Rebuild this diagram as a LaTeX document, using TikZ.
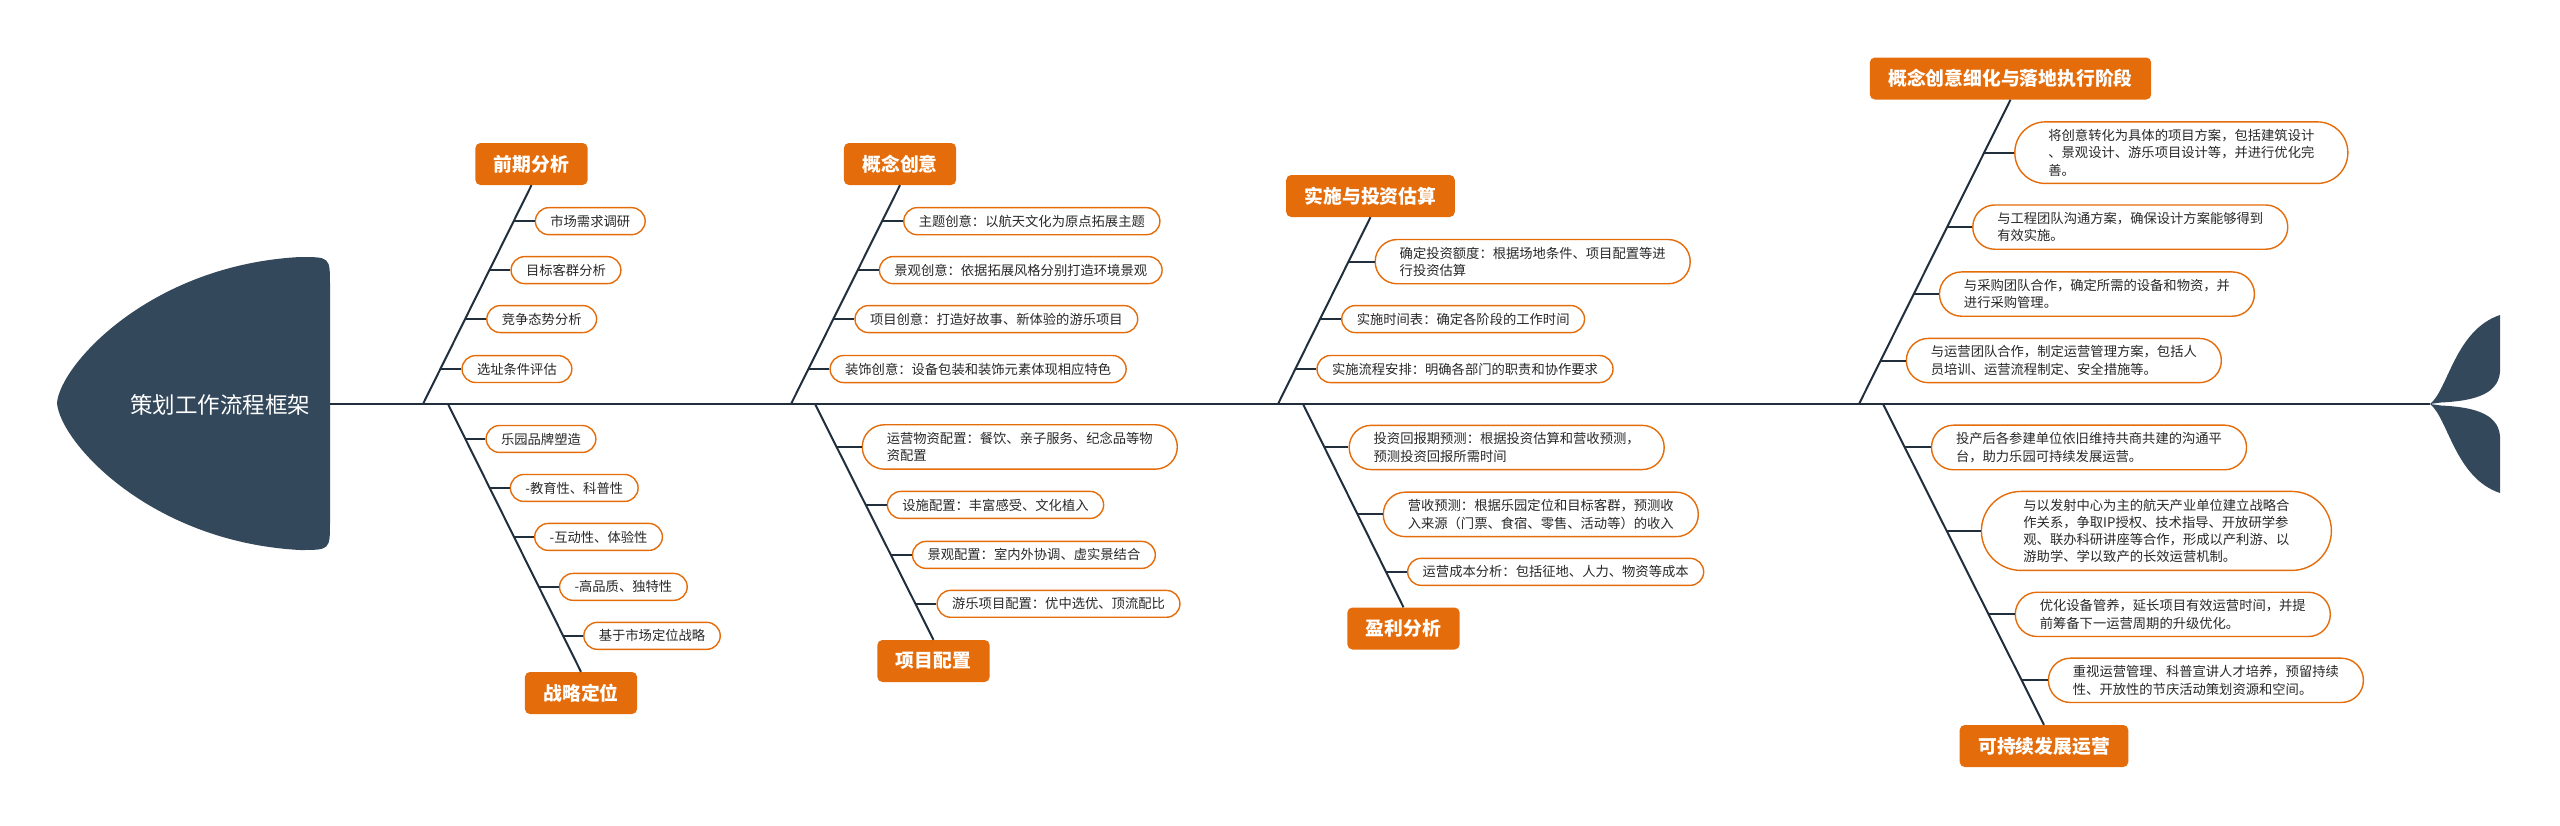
\documentclass[tikz,border=0pt]{standalone}
\usepackage{fontspec}
\newfontfamily\cjk{Noto Sans CJK SC}
\usetikzlibrary{calc}
\definecolor{navy}{RGB}{52,72,92}
\definecolor{linec}{RGB}{33,47,61}
\definecolor{orng}{RGB}{228,108,10}
\definecolor{txt}{RGB}{40,40,40}
\newcommand\fbleaf[8]{% #1 start coord, #2 end anchor, #3 end y, #4 leaf y, #5 gap, #6 name, #7 text, #8 style
  \pgfmathsetmacro\fbfrac{(404-#4)/(404-#3)}%
  \coordinate (#6c) at ($(#1)!\fbfrac!(#2)$);
  \node[leaf,#8] (#6) at ([xshift=#5pt]#6c) {#7};
  \draw[twg] (#6c) -- (#6.west);
}
\begin{document}
\begin{tikzpicture}[x=1pt,y=-1pt,
  ttl/.style={rectangle, rounded corners=5pt, fill=orng, text=white,
    font=\cjk\bfseries\fontsize{18.8}{20}\selectfont, inner xsep=18.5pt, minimum height=42pt},
  leaf/.style={rectangle, draw=orng, line width=1.4pt, fill=white, text=txt,
    font=\cjk\fontsize{13.3}{17.3}\selectfont, align=left, inner ysep=7.3pt, anchor=west},
  one/.style={inner xsep=15pt, rounded corners=13.5pt},
  two/.style={inner xsep=24.5pt, rounded corners=22pt},
  three/.style={inner xsep=33.5pt, rounded corners=30.5pt},
  four/.style={inner xsep=42pt, rounded corners=39.5pt},
  bone/.style={draw=linec, line width=2pt},
  twg/.style={draw=linec, line width=2pt}]
\useasboundingbox (0,0) rectangle (2560,825);

% head
\fill[navy] (57,403) .. controls (60,365) and (150,265) .. (300,257)
  .. controls (330,257) .. (330,285) -- (330,522)
  .. controls (330,550) .. (300,550)
  .. controls (150,542) and (60,442) .. (57,403) -- cycle;
\node[font=\cjk\fontsize{22.5}{24}\selectfont, text=white] (head) at (220,405) {策划工作流程框架};

% tail
\coordinate (headR) at (330,404);
\coordinate (tailN) at (2430,404);
\fill[navy] (2430,404) .. controls (2448,390) and (2455,330) .. (2500,315)
  -- (2500,372) .. controls (2498,396) and (2470,401) .. (2441,402.5) -- cycle;
\fill[navy] (2430,404) .. controls (2448,418) and (2455,478) .. (2500,493)
  -- (2500,436) .. controls (2498,412) and (2470,407) .. (2441,405.5) -- cycle;
\draw[bone, line width=2.5pt] (headR) -- (tailN);

% branch 1 up
\coordinate (s1u) at (423,404);
\node[ttl] (t1u) at (531.5,164) {前期分析};
\draw[bone] (s1u) -- (t1u.south);
\fbleaf{s1u}{t1u.south}{185}{221}{21}{a1}{市场需求调研}{one}
\fbleaf{s1u}{t1u.south}{185}{270}{21}{a2}{目标客群分析}{one}
\fbleaf{s1u}{t1u.south}{185}{319}{21}{a3}{竞争态势分析}{one}
\fbleaf{s1u}{t1u.south}{185}{369}{21}{a4}{选址条件评估}{one}

% branch 1 down
\coordinate (s1d) at (448,404);
\node[ttl] (t1d) at (581,693) {战略定位};
\draw[bone] (s1d) -- (t1d.north);
\fbleaf{s1d}{t1d.north}{672}{439}{20}{b1}{乐园品牌塑造}{one}
\fbleaf{s1d}{t1d.north}{672}{488}{20}{b2}{-教育性、科普性}{one}
\fbleaf{s1d}{t1d.north}{672}{537}{20}{b3}{-互动性、体验性}{one}
\fbleaf{s1d}{t1d.north}{672}{587}{20}{b4}{-高品质、独特性}{one}
\fbleaf{s1d}{t1d.north}{672}{636}{20}{b5}{基于市场定位战略}{one}

% branch 2 up
\coordinate (s2u) at (791,404);
\node[ttl] (t2u) at (900,164) {概念创意};
\draw[bone] (s2u) -- (t2u.south);
\fbleaf{s2u}{t2u.south}{185}{221}{21}{c1}{主题创意：以航天文化为原点拓展主题}{one}
\fbleaf{s2u}{t2u.south}{185}{270}{21}{c2}{景观创意：依据拓展风格分别打造环境景观}{one}
\fbleaf{s2u}{t2u.south}{185}{319}{21}{c3}{项目创意：打造好故事、新体验的游乐项目}{one}
\fbleaf{s2u}{t2u.south}{185}{369}{21}{c4}{装饰创意：设备包装和装饰元素体现相应特色}{one}

% branch 2 down
\coordinate (s2d) at (815,404);
\node[ttl] (t2d) at (933.5,661) {项目配置};
\draw[bone] (s2d) -- (t2d.north);
\fbleaf{s2d}{t2d.north}{640}{447}{25}{d1}{运营物资配置：餐饮、亲子服务、纪念品等物\\资配置}{two}
\fbleaf{s2d}{t2d.north}{640}{505}{21}{d2}{设施配置：丰富感受、文化植入}{one}
\fbleaf{s2d}{t2d.north}{640}{555}{21}{d3}{景观配置：室内外协调、虚实景结合}{one}
\fbleaf{s2d}{t2d.north}{640}{604}{21}{d4}{游乐项目配置：优中选优、顶流配比}{one}

% branch 3 up
\coordinate (s3u) at (1278,404);
\node[ttl] (t3u) at (1370.5,196) {实施与投资估算};
\draw[bone] (s3u) -- (t3u.south);
\fbleaf{s3u}{t3u.south}{217}{261.5}{26}{e1}{确定投资额度：根据场地条件、项目配置等进\\行投资估算}{two}
\fbleaf{s3u}{t3u.south}{217}{319}{21}{e2}{实施时间表：确定各阶段的工作时间}{one}
\fbleaf{s3u}{t3u.south}{217}{369}{21}{e3}{实施流程安排：明确各部门的职责和协作要求}{one}

% branch 3 down
\coordinate (s3d) at (1303,404);
\node[ttl] (t3d) at (1403.5,628.5) {盈利分析};
\draw[bone] (s3d) -- (t3d.north);
\fbleaf{s3d}{t3d.north}{607.5}{447.5}{24}{f1}{投资回报期预测：根据投资估算和营收预测，\\预测投资回报所需时间}{two}
\fbleaf{s3d}{t3d.north}{607.5}{514.5}{25}{f2}{营收预测：根据乐园定位和目标客群，预测收\\入来源（门票、食宿、零售、活动等）的收入}{two}
\fbleaf{s3d}{t3d.north}{607.5}{572}{21}{f3}{运营成本分析：包括征地、人力、物资等成本}{one}

% branch 4 up
\coordinate (s4u) at (1859,404);
\node[ttl] (t4u) at (2010.5,78.5) {概念创意细化与落地执行阶段};
\draw[bone] (s4u) -- (t4u.south);
\fbleaf{s4u}{t4u.south}{99.5}{152.5}{30}{g1}{将创意转化为具体的项目方案，包括建筑设计\\、景观设计、游乐项目设计等，并进行优化完\\善。}{three}
\fbleaf{s4u}{t4u.south}{99.5}{227}{25}{g2}{与工程团队沟通方案，确保设计方案能够得到\\有效实施。}{two}
\fbleaf{s4u}{t4u.south}{99.5}{294}{25}{g3}{与采购团队合作，确定所需的设备和物资，并\\进行采购管理。}{two}
\fbleaf{s4u}{t4u.south}{99.5}{360.5}{25}{g4}{与运营团队合作，制定运营管理方案，包括人\\员培训、运营流程制定、安全措施等。}{two}

% branch 4 down
\coordinate (s4d) at (1883,404);
\node[ttl] (t4d) at (2044,746) {可持续发展运营};
\draw[bone] (s4d) -- (t4d.north);
\fbleaf{s4d}{t4d.north}{725}{447.5}{26}{h1}{投产后各参建单位依旧维持共商共建的沟通平\\台，助力乐园可持续发展运营。}{two}
\fbleaf{s4d}{t4d.north}{725}{531}{34}{h2}{与以发射中心为主的航天产业单位建立战略合\\作关系，争取IP授权、技术指导、开放研学参\\观、联办科研讲座等合作，形成以产利游、以\\游助学、学以致产的长效运营机制。}{four}
\fbleaf{s4d}{t4d.north}{725}{614.5}{26}{h3}{优化设备管养，延长项目有效运营时间，并提\\前筹备下一运营周期的升级优化。}{two}
\fbleaf{s4d}{t4d.north}{725}{680.5}{26}{h4}{重视运营管理、科普宣讲人才培养，预留持续\\性、开放性的节庆活动策划资源和空间。}{two}
\end{tikzpicture}
\end{document}
